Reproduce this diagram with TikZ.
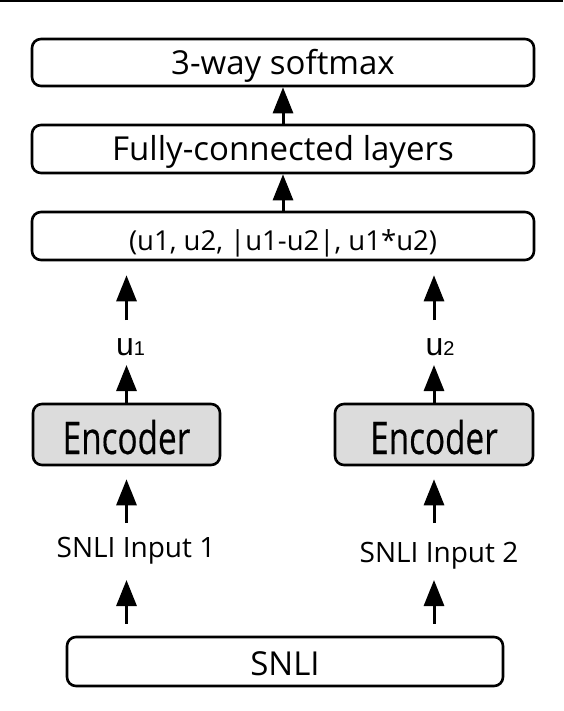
\documentclass[tikz,border=0pt]{standalone}
\usepackage{fontspec}
\usepackage{graphicx}
\setmainfont{Open Sans}
\newfontfamily\lib{Liberation Sans}
\newfontfamily\encfont[FakeBold=0.4]{Open Sans}
\usetikzlibrary{arrows.meta}
\definecolor{encfill}{RGB}{220,220,220}
\begin{document}
\begin{tikzpicture}[x=1pt,y=-1pt,
  box/.style={draw, line width=2.6pt, rounded corners=9pt, inner sep=0pt, text depth=0pt},
  arr/.style={line width=3pt, -{Triangle[width=20pt,length=26pt]}},
  lbl/.style={anchor=base, inner sep=0pt}]
\useasboundingbox (0,0) rectangle (563,711);
\fill (0,0) rectangle (563,2.5);
% top boxes
\node[box, minimum width=502pt, minimum height=47pt, text height=24pt,
      font=\fontsize{33}{36}\selectfont] (soft) at (283,62.5) {3-way softmax};
\node[box, minimum width=502pt, minimum height=48pt, text height=24pt,
      font=\fontsize{33}{36}\selectfont] (fc) at (283,149) {Fully-connected layers};
\node[box, minimum width=502pt, minimum height=48pt, text height=28pt,
      font=\fontsize{27.5}{30}\selectfont] (feat) at (283,236) {(u1, u2, |u1-u2|, u1*u2)};
% encoders
\node[box, fill=encfill, minimum width=187pt, minimum height=61pt, text height=39pt,
      font=\encfont\fontsize{45}{50}\selectfont] (encL) at (126.5,434.5) {\scalebox{0.74}[1]{Encoder}};
\node[box, fill=encfill, minimum width=198pt, minimum height=61pt, text height=39pt,
      font=\encfont\fontsize{45}{50}\selectfont] (encR) at (434,434.5) {\scalebox{0.74}[1]{Encoder}};
% bottom box
\node[box, minimum width=436pt, minimum height=49pt, text height=27pt,
      font=\fontsize{33}{36}\selectfont] (snli) at (285,661.5) {SNLI};
% labels
\node[lbl, font=\lib\fontsize{32}{34}\selectfont] (u1) at (130.5,355) {u{\fontsize{20}{22}\selectfont 1}};
\node[lbl, font=\lib\fontsize{32}{34}\selectfont] (u2) at (440,355) {u{\fontsize{20}{22}\selectfont 2}};
\node[lbl, font=\fontsize{28}{30}\selectfont] (in1) at (136,557) {SNLI Input 1};
\node[lbl, font=\fontsize{28}{30}\selectfont] (in2) at (439,562) {SNLI Input 2};
% arrows
\draw[arr] (fc.north) -- (soft.south);
\draw[arr] (feat.north) -- (fc.south);
\draw[arr] ([yshift=35pt]u1.base -| encL.north) -- ([yshift=-14pt]feat.south -| encL.north);
\draw[arr] ([yshift=35pt]u2.base -| encR.north) -- ([yshift=-14pt]feat.south -| encR.north);
\draw[arr] (encL.north) -- ([yshift=-10pt]u1.base -| encL.north);
\draw[arr] (encR.north) -- ([yshift=-10pt]u2.base -| encR.north);
\draw[arr] ([yshift=34pt]in1.base -| encL.south) -- ([yshift=-13pt]encL.south);
\draw[arr] ([yshift=39pt]in2.base -| encR.south) -- ([yshift=-13pt]encR.south);
\draw[arr] ([yshift=12pt]snli.north -| encL.south) -- ([yshift=-23pt]in1.base -| encL.south);
\draw[arr] ([yshift=12pt]snli.north -| encR.south) -- ([yshift=-18pt]in2.base -| encR.south);
\end{tikzpicture}
\end{document}
